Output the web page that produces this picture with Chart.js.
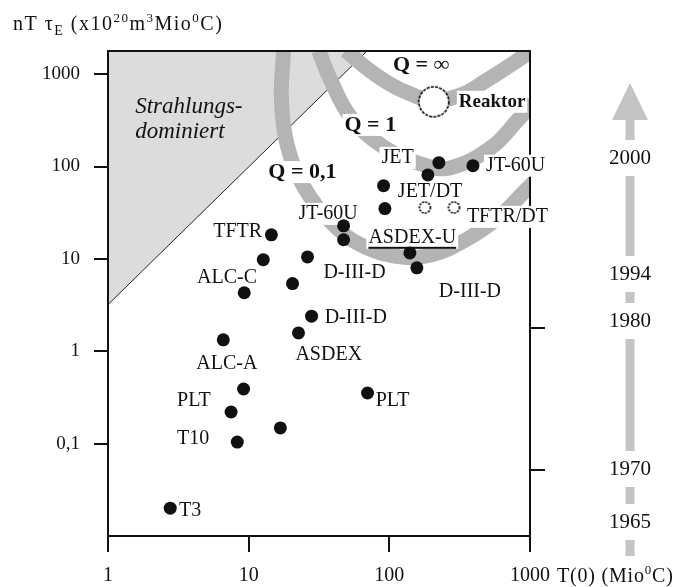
<!DOCTYPE html>
<html>
<head>
<meta charset="utf-8">
<script src="https://cdn.jsdelivr.net/npm/chart.js@4.4.1/dist/chart.umd.min.js"></script>
<style>
  html, body { margin: 0; padding: 0; background: #fff; }
  canvas { display: block; }
</style>
</head>
<body>
<canvas id="chart" width="689" height="587"></canvas>
<script>
'use strict';
const xTicks = [1, 10, 100, 1000];
const yTicks = [0.1, 1, 10, 100, 1000];
const rightTicks = [1.8, 0.052];
const years = ['2000', '1994', '1980', '1970', '1965'];

// machines: T(0) in Mio °C, n T tau_E
const dotT = [2.77, 8.3, 16.8, 7.5, 9.2, 70, 6.6, 22.6, 28, 9.3, 20.5, 12.7, 26.2, 14.5, 47.3, 47.3, 91, 93, 140, 157, 225, 188, 393];
const dotN = [0.020, 0.104, 0.148, 0.22, 0.39, 0.353, 1.33, 1.58, 2.4, 4.3, 5.4, 9.8, 10.5, 18.2, 22.8, 16.1, 62, 35, 11.6, 8.0, 110, 81, 102];
const dtT = [179, 288];
const dtN = [36, 36];
const reactorT = [207];
const reactorN = [502];

// Q bands
const qInfT = [48.9, 76.2, 120.6, 204, 323, 486, 733, 1052];
const qInfN = [1800, 1036, 678, 527, 597, 848, 1265, 1838];
const q1T = [31.4, 38.2, 53, 91, 176, 274, 528, 823, 1050];
const q1N = [1800, 870, 345, 163, 104, 97, 160, 321, 490];
const q01T = [17.7, 17.1, 19.2, 25.4, 38.2, 62.5, 120, 197, 351, 593, 938, 1200];
const q01N = [1800, 527, 151, 56, 25.2, 14.2, 10.5, 11.0, 16.1, 27.8, 56, 81];

// radiation limit
const radT = [1, 70];
const radN = [3.2, 1800];

// text
const qLabelText = ['Q = \u221e', 'Q = 1', 'Q = 0,1'];
const qLabelT = [106, 48, 13.8];
const qLabelN = [1260, 282, 87];
const nameText = ['JET', 'JT-60U', 'JET/DT', 'TFTR/DT', 'JT-60U', 'ASDEX-U', 'TFTR', 'ALC-C', 'D-III-D', 'D-III-D', 'D-III-D', 'ASDEX', 'ALC-A', 'PLT', 'PLT', 'T10', 'T3'];
const nameT = [88, 487, 115, 356, 22.6, 71, 5.6, 4.3, 34, 34.7, 225, 21.5, 4.24, 3.1, 80, 3.1, 3.2];
const nameN = [124, 102, 53, 28.5, 30.7, 16.9, 19.6, 6.2, 7.05, 2.3, 4.4, 0.91, 0.73, 0.29, 0.29, 0.112, 0.0186];
const reactorLabel = 'Reaktor';
const reactorLabelT = 312;
const reactorLabelN = 502;
const regionText = ['Strahlungs-', 'dominiert'];
const regionT = 1.56;
const regionN = [443, 238];

const SERIF = "'Liberation Serif', 'Times New Roman', serif";
const INK = '#111';
const BAND = '#b4b4b4';

Chart.defaults.font.family = SERIF;
Chart.defaults.color = INK;

function pts(xs, ys) {
  return xs.map((x, i) => ({x: x, y: ys[i]}));
}

function ring(r, dash, lw) {
  const c = document.createElement('canvas');
  const s = Math.ceil(2 * r + 4);
  c.width = s; c.height = s;
  const g = c.getContext('2d');
  g.beginPath();
  g.arc(s / 2, s / 2, r, 0, 2 * Math.PI);
  g.fillStyle = '#fff';
  g.fill();
  g.setLineDash(dash);
  g.strokeStyle = '#000';
  g.lineWidth = lw;
  g.stroke();
  return c;
}

function band(xs, ys) {
  return {
    type: 'line', data: pts(xs, ys), pointRadius: 0, borderColor: BAND,
    borderWidth: 15, tension: 0.4, capBezierPoints: false, fill: false
  };
}

function label(ctx, text, px, py, font, bg, underline) {
  ctx.font = font;
  ctx.textAlign = 'left';
  ctx.textBaseline = 'middle';
  const w = ctx.measureText(text).width;
  if (bg) {
    ctx.fillStyle = '#fff';
    ctx.fillRect(px - 2, py - 11, w + 4, 22);
  }
  ctx.fillStyle = INK;
  ctx.fillText(text, px, py);
  if (underline) {
    ctx.fillRect(px, py + 9, w, 2);
  }
}

function run(ctx, pieces, x0, base, size) {
  let x = x0;
  ctx.textAlign = 'left';
  ctx.textBaseline = 'alphabetic';
  ctx.fillStyle = INK;
  pieces.forEach(p => {
    let fs = size, dy = 0;
    if (p[1] === 'sup') { fs = Math.round(size * 0.65); dy = -8; }
    if (p[1] === 'sub') { fs = Math.round(size * 0.7); dy = 5; }
    ctx.font = fs + 'px ' + SERIF;
    ctx.fillText(p[0], x, base + dy);
    x += ctx.measureText(p[0]).width;
  });
}

const decor = {
  id: 'decor',
  afterDatasetDraw(chart, args) {
    if (args.index !== 3) return;
    const {ctx, chartArea: a, scales: {x, y}} = chart;
    ctx.save();
    ctx.strokeStyle = INK;
    ctx.lineWidth = 2;
    ctx.strokeRect(a.left, a.top, a.right - a.left, a.bottom - a.top);
    regionText.forEach((t, i) => {
      label(ctx, t, x.getPixelForValue(regionT), y.getPixelForValue(regionN[i]), 'italic 23px ' + SERIF, false);
    });
    qLabelText.forEach((t, i) => {
      label(ctx, t, x.getPixelForValue(qLabelT[i]), y.getPixelForValue(qLabelN[i]), 'bold 22px ' + SERIF, true);
    });
    nameText.forEach((t, i) => {
      label(ctx, t, x.getPixelForValue(nameT[i]), y.getPixelForValue(nameN[i]), '20px ' + SERIF, true, t === 'ASDEX-U');
    });
    label(ctx, reactorLabel, x.getPixelForValue(reactorLabelT), y.getPixelForValue(reactorLabelN), 'bold 19px ' + SERIF, true);
    ctx.restore();
  },
  afterDraw(chart) {
    const ctx = chart.ctx;
    ctx.save();
    ctx.letterSpacing = '1.5px';
    run(ctx, [['nT '], ['\u03c4'], ['E', 'sub'], [' (x10'], ['20', 'sup'], ['m'], ['3', 'sup'], ['Mio'], ['0', 'sup'], ['C)']], 13, 30, 20);
    ctx.letterSpacing = '0.8px';
    run(ctx, [['T(0) (Mio'], ['0', 'sup'], ['C)']], 557, 582, 20);
    ctx.letterSpacing = '0px';

    // time arrow
    const ax = 630;
    ctx.fillStyle = '#c4c4c4';
    ctx.fillRect(ax - 4.5, 118, 9, 438);
    ctx.beginPath();
    ctx.moveTo(ax - 18, 120);
    ctx.lineTo(ax + 18, 120);
    ctx.lineTo(ax, 83);
    ctx.closePath();
    ctx.fill();
    const yearY = [158, 274, 321, 469, 522];
    ctx.font = '21px ' + SERIF;
    ctx.textAlign = 'center';
    ctx.textBaseline = 'middle';
    years.forEach((t, i) => {
      ctx.fillStyle = '#fff';
      ctx.fillRect(ax - 30, yearY[i] - 18, 60, 36);
      ctx.fillStyle = INK;
      ctx.fillText(t, ax, yearY[i]);
    });
    ctx.restore();
  }
};

new Chart(document.getElementById('chart'), {
  type: 'scatter',
  data: {
    datasets: [
      {data: pts(dotT, dotN), pointRadius: 6.5, backgroundColor: INK, borderColor: INK, borderWidth: 0},
      {data: pts(dtT, dtN), pointStyle: ring(5.5, [2, 1.2], 1.6)},
      {data: pts(reactorT, reactorN), pointStyle: ring(15, [3, 1.2], 1.6)},
      band(qInfT, qInfN),
      band(q1T, q1N),
      band(q01T, q01N),
      {
        type: 'line', data: pts(radT, radN), pointRadius: 0, borderColor: '#222',
        borderWidth: 1, fill: 'end', backgroundColor: '#dcdcdc', tension: 0
      }
    ]
  },
  options: {
    responsive: false,
    animation: false,
    events: [],
    layout: {padding: {top: 51, left: 0, right: 0, bottom: 0}},
    plugins: {legend: {display: false}, tooltip: {enabled: false}},
    scales: {
      x: {
        type: 'logarithmic', position: 'bottom', min: 1, max: 1000,
        afterBuildTicks: s => { s.ticks = xTicks.map(v => ({value: v})); },
        afterFit: s => { s.height = 51; },
        ticks: {callback: v => String(v), font: {size: 20}, color: INK, padding: 12, maxRotation: 0, autoSkip: false},
        grid: {drawOnChartArea: false, drawTicks: true, tickLength: 16, color: INK, lineWidth: 2},
        border: {display: false}
      },
      y: {
        type: 'logarithmic', position: 'left', min: 0.01, max: 1780,
        afterBuildTicks: s => { s.ticks = yTicks.map(v => ({value: v})); },
        afterFit: s => { s.width = 108; },
        ticks: {callback: v => (v === 0.1 ? '0,1' : String(v)), font: {size: 19}, color: INK, padding: 14, autoSkip: false},
        grid: {drawOnChartArea: false, drawTicks: true, tickLength: 14, color: INK, lineWidth: 2},
        border: {display: false}
      },
      y2: {
        type: 'logarithmic', position: 'right', min: 0.01, max: 1780,
        afterBuildTicks: s => { s.ticks = rightTicks.map(v => ({value: v})); },
        afterFit: s => { s.width = 159; },
        ticks: {display: false},
        grid: {drawOnChartArea: false, drawTicks: true, tickLength: 15, color: INK, lineWidth: 2},
        border: {display: false}
      }
    }
  },
  plugins: [decor]
});
</script>
</body>
</html>
